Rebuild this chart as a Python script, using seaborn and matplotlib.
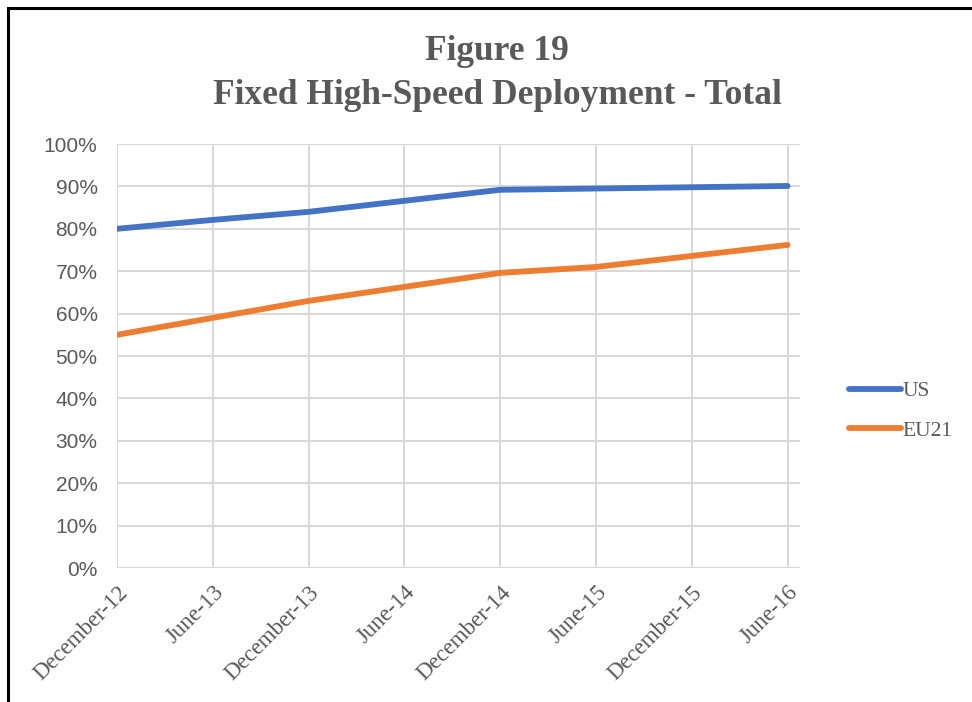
import pandas as pd
import numpy as np
import matplotlib.pyplot as plt
import matplotlib.transforms as mtransforms
from matplotlib.patches import Rectangle
import seaborn as sns

''' Chart data '''
periods = ["December-12", "June-13", "December-13", "June-14",
           "December-14", "June-15", "December-15", "June-16"]
us = [80.0, 82.1, 84.0, 86.6, 89.2, 89.5, 89.8, 90.1]
eu21 = [55.0, 59.0, 63.0, 66.3, 69.6, 71.0, 73.6, 76.2]
series_names = ["US", "EU21"]
series_colors = ["#4472C4", "#ED7D31"]
y_ticks = [0, 10, 20, 30, 40, 50, 60, 70, 80, 90, 100]

df = pd.DataFrame({
    "period": periods * 2,
    "idx": list(range(len(periods))) * 2,
    "value": us + eu21,
    "series": ["US"] * len(us) + ["EU21"] * len(eu21),
})

sns.set_style("white")
text_grey = "#595959"

fig = plt.figure(figsize=(9.72, 7.02), dpi=100)
ax = fig.add_axes([117/972, 1 - 568/702, (800 - 117)/972, (568 - 144)/702])

sns.lineplot(data=df, x="idx", y="value", hue="series", hue_order=series_names,
             palette=series_colors, linewidth=4.2, ax=ax, legend=False,
             solid_capstyle="round")

# Axes / grid
ax.set_xlim(0, 7.13)
ax.set_ylim(0, 100)
ax.set_yticks(y_ticks)
ax.set_yticklabels([f"{t}%" for t in y_ticks], fontsize=15, color=text_grey,
                   family="Liberation Sans")
ax.set_xticks(range(len(periods)))
ax.set_xticklabels(periods, rotation=45, ha="right", rotation_mode="anchor",
                   fontsize=16.5, color=text_grey, family="Liberation Serif")
offset = mtransforms.ScaledTranslation(25/100, 0, fig.dpi_scale_trans)
for lbl in ax.get_xticklabels():
    lbl.set_transform(lbl.get_transform() + offset)
ax.tick_params(axis="both", length=0)
ax.tick_params(axis="y", pad=14)
ax.tick_params(axis="x", pad=10)
ax.grid(True, color="#D9D9D9", linewidth=1.5)
ax.set_axisbelow(True)
for s in ax.spines.values():
    s.set_visible(False)
ax.set_xlabel("")
ax.set_ylabel("")

# Legend
handles = [plt.Line2D([], [], color=c, linewidth=4.2, solid_capstyle="round")
           for c in series_colors]
leg = fig.legend(handles, series_names, loc="center left",
                 bbox_to_anchor=(830/972, 1 - 411/702), frameon=False,
                 prop={"family": "Liberation Serif", "size": 15.5},
                 handlelength=2.4, handletextpad=0.05, labelspacing=0.9)
for t in leg.get_texts():
    t.set_color(text_grey)

# Title
fig.text(497/972, 1 - 51/702, "Figure 19", ha="center", va="center",
         fontsize=25.5, fontweight="bold", color=text_grey, family="Liberation Serif")
fig.text(497/972, 1 - 95/702, "Fixed High-Speed Deployment - Total", ha="center",
         va="center", fontsize=25.5, fontweight="bold", color=text_grey,
         family="Liberation Serif")

# Outer frame (left and top edges visible)
fig.patches.append(Rectangle((8/972, -0.05), 1.2, 1 - 8/702 + 0.05,
                             transform=fig.transFigure, fill=False,
                             edgecolor="black", linewidth=2.2))

plt.savefig("out.png", dpi=100)
